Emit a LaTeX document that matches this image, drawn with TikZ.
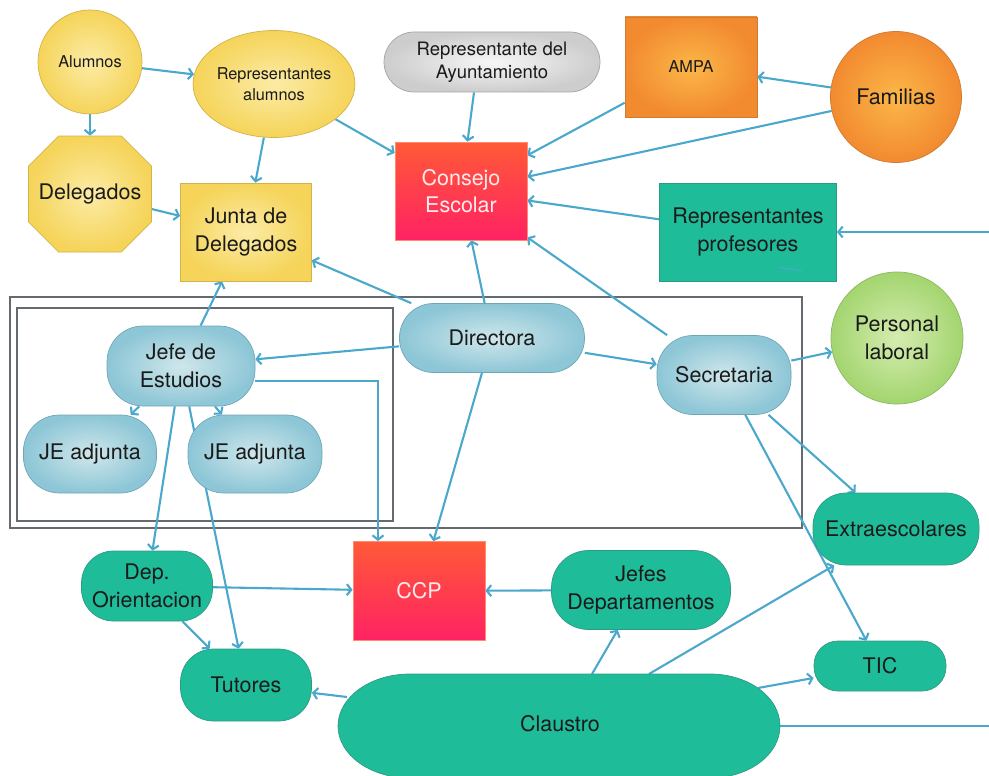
\documentclass[tikz,border=0pt]{standalone}
\usepackage{fontspec}
\setmainfont{TeX Gyre Heros}
\usetikzlibrary{arrows.meta,shapes.geometric,shapes.misc,backgrounds,calc}
\definecolor{arrowc}{HTML}{4AA8CD}
\definecolor{txtc}{HTML}{1A1A1A}
\definecolor{yel1}{HTML}{FCEBA6}
\definecolor{yel2}{HTML}{F5D459}
\definecolor{yelb}{HTML}{D2B24C}
\definecolor{ora1}{HTML}{FBB748}
\definecolor{ora2}{HTML}{F28A30}
\definecolor{orab}{HTML}{CF7B34}
\definecolor{gry1}{HTML}{F7F7F7}
\definecolor{gry2}{HTML}{CDCDCD}
\definecolor{gryb}{HTML}{A5A5A5}
\definecolor{blu1}{HTML}{CFE7EB}
\definecolor{blu2}{HTML}{8DC6D6}
\definecolor{blub}{HTML}{6FA6B6}
\definecolor{teal1}{HTML}{1FBC9A}
\definecolor{tealb}{HTML}{2E9A83}
\definecolor{grn1}{HTML}{D5ECB0}
\definecolor{grn2}{HTML}{A3D56F}
\definecolor{grnb}{HTML}{8DB862}
\definecolor{red1}{HTML}{FF5A37}
\definecolor{red2}{HTML}{FF2263}
\definecolor{boxc}{HTML}{646A70}
\begin{document}
\begin{tikzpicture}[x=1pt,y=-1pt,
  base/.style={inner sep=0pt, align=center, text=txtc, line width=0.7pt},
  fbig/.style={font=\fontsize{21.5}{27.5}\selectfont},
  fmid/.style={font=\fontsize{18.5}{23}\selectfont},
  fsml/.style={font=\fontsize{16.3}{21}\selectfont},
  yelnode/.style={base, draw=yelb, inner color=yel1, outer color=yel2},
  oranode/.style={base, draw=orab, inner color=ora1, outer color=ora2},
  grynode/.style={base, draw=gryb, inner color=gry1, outer color=gry2},
  blunode/.style={base, draw=blub, inner color=blu1, outer color=blu2, rectangle},
  tealnode/.style={base, draw=tealb, fill=teal1, rectangle},
  grnnode/.style={base, draw=grnb, inner color=grn1, outer color=grn2},
  rednode/.style={base, draw=red1!70!white, top color=red1, bottom color=red2, text=white!92!red, rectangle},
  rr/.style={rounded corners=#1},
  arr/.style={draw=arrowc, line width=2.1pt, -{Straight Barb[length=4.5pt,width=11pt]}},
  plain/.style={draw=arrowc, line width=2.1pt},
  frame/.style={draw=boxc, line width=2.8pt}
]
\useasboundingbox (0,0) rectangle (989,776);

% top row
\node[yelnode, circle, minimum size=104pt, fsml] (alum) at (90,62) {Alumnos};
\node[yelnode, ellipse, minimum width=126pt, minimum height=107pt, fsml] (repal) at (274,84) {Representantes\\alumnos};
\node[yelnode, chamfered rectangle, chamfered rectangle xsep=12pt, chamfered rectangle ysep=20pt, minimum width=116pt, minimum height=116pt, fbig] (deleg) at (90,194) {Delegados};
\node[yelnode, rectangle, minimum width=131pt, minimum height=98pt, fbig] (junta) at (246,232) {Junta de\\Delegados};
\node[grynode, rectangle, rr=30pt, minimum width=216pt, minimum height=60pt, fmid] (repay) at (492,62) {Representante del\\Ayuntamiento};
\node[oranode, rectangle, minimum width=132pt, minimum height=100pt, fsml] (ampa) at (691,67) {AMPA};
\node[oranode, circle, minimum size=131pt, fbig] (fam) at (896,97) {Familias};
\node[rednode, minimum width=132pt, minimum height=98pt, fbig] (consejo) at (461,191) {Consejo\\Escolar};
\node[tealnode, minimum width=177pt, minimum height=98pt, fbig] (repprof) at (748,232) {Representantes\\profesores};

% middle
\node[blunode, rr=34pt, minimum width=185pt, minimum height=69pt, fbig] (dir) at (492,338) {Directora};
\node[blunode, rr=36pt, minimum width=148pt, minimum height=80pt, fbig] (je) at (181,366) {Jefe de\\Estudios};
\node[blunode, rr=36pt, minimum width=133pt, minimum height=78pt, fbig] (jea) at (90,454) {JE adjunta};
\node[blunode, rr=36pt, minimum width=134pt, minimum height=78pt, fbig] (jeb) at (255,454) {JE adjunta};
\node[blunode, rr=36pt, minimum width=134pt, minimum height=79pt, fbig] (secr) at (724,375) {Secretaria};
\node[grnnode, circle, minimum size=132pt, fbig] (perso) at (897,338) {Personal\\laboral};

% bottom
\node[tealnode, rr=33pt, minimum width=166pt, minimum height=72pt, fbig] (extra) at (896,529) {Extraescolares};
\node[tealnode, rr=32pt, minimum width=131pt, minimum height=70pt, fbig] (depor) at (147,586) {Dep.\\Orientacion};
\node[rednode, minimum width=132pt, minimum height=99pt, fbig] (ccp) at (419,591) {CCP};
\node[tealnode, rr=37pt, minimum width=179pt, minimum height=79pt, fbig] (jefes) at (641,590) {Jefes\\Departamentos};
\node[tealnode, rr=24pt, minimum width=132pt, minimum height=50pt, fbig] (tic) at (880,666) {TIC};
\node[tealnode, rr=33pt, minimum width=131pt, minimum height=72pt, fbig] (tut) at (246,685) {Tutores};

% Claustro
\draw[draw=tealb, fill=teal1, line width=0.7pt] (410,674) -- (710,674)
  arc[start angle=-90, end angle=90, x radius=70, y radius=52] -- (410,778)
  arc[start angle=90, end angle=270, x radius=72, y radius=52] -- cycle;
\node[base, fbig] (claustro) at (560,724) {Claustro};
\coordinate (cl1) at (347,697);
\coordinate (cl2) at (592,674);
\coordinate (cl3) at (649,674);
\coordinate (cl4) at (758,688);
\coordinate (cl5) at (780,726);
\coordinate (redge1) at (989,232);
\coordinate (redge2) at (989,726);

% small dash inside Representantes profesores
\draw[draw=arrowc!80!teal1, line width=1.4pt] (778,267) -- (802,271);

\begin{scope}[on background layer]
  \draw[frame] (10,297) rectangle (802,528);
  \draw[frame] (17,308) rectangle (393,521);

  \draw[arr] (alum) -- (repal);
  \draw[arr] (alum) -- (deleg);
  \draw[arr] (repal) -- (junta);
  \draw[arr] (repal) -- (consejo);
  \draw[arr] (deleg) -- (junta);
  \draw[arr] (repay.south) ++(-18,0) coordinate (rayb) (rayb) -- (consejo);
  \draw[arr] (ampa) -- (consejo);
  \draw[arr] (fam) -- (ampa);
  \draw[arr] (fam) -- (consejo);
  \draw[arr] (repprof) -- (consejo);
  \draw[arr] (redge1) -- (repprof);
  \draw[arr] (dir) -- (consejo);
  \draw[arr] (secr) -- (consejo);
  \draw[arr] (dir) -- (junta);
  \draw[arr] (je) -- (junta);
  \draw[arr] (dir) -- (je);
  \draw[arr] (dir) -- (secr);
  \draw[arr] (secr) -- (perso);
  \draw[arr] (secr) -- (extra);
  \draw[arr] (secr) -- (tic);
  \draw[arr] (je) -- (jea);
  \draw[arr] (je) -- (jeb);
  \draw[arr] (je) -- (depor);
  \draw[arr] (je) -- (tut);
  \draw[arr] ([yshift=-15pt]je.east) -| ([xshift=-41pt]ccp.north);
  \draw[arr] (dir) -- (ccp);
  \draw[arr] (depor) -- (ccp);
  \draw[arr] (jefes) -- (ccp);
  \draw[arr] (depor) -- (tut);
  \draw[arr] (cl1) -- (tut);
  \draw[arr] (cl2) -- (jefes);
  \draw[arr] (cl3) -- (extra);
  \draw[arr] (cl4) -- (tic);
  \draw[plain] (cl5) -- (redge2);
\end{scope}
\end{tikzpicture}
\end{document}
